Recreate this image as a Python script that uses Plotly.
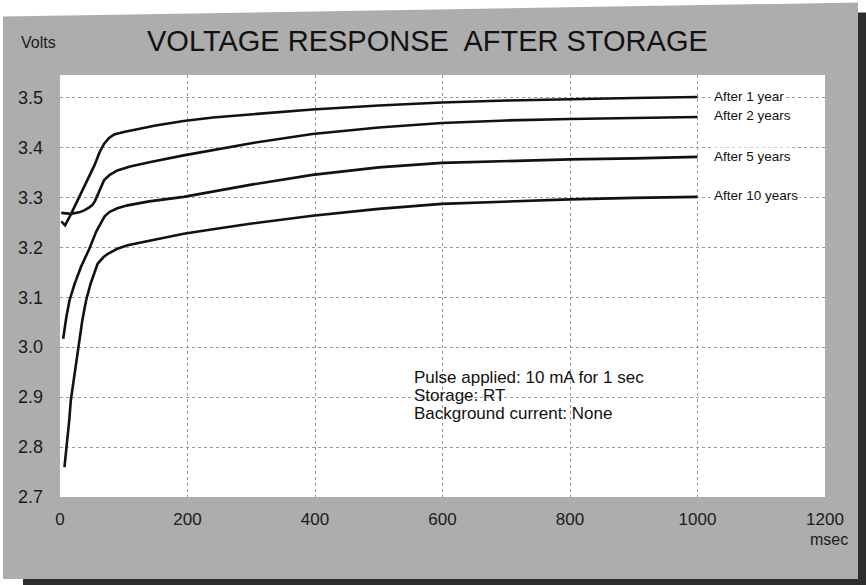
import plotly.graph_objects as go

# ---------------- data ----------------
series_names = ["After 1 year", "After 2 years", "After 5 years", "After 10 years"]

x_1yr = [2, 8, 17, 28, 38, 46, 54, 62, 69, 77, 85, 100, 116, 150, 194, 240, 298, 396, 500, 599, 700, 800, 900, 1000]
v_1yr = [3.252, 3.244, 3.266, 3.295, 3.321, 3.342, 3.364, 3.390, 3.407, 3.419, 3.426, 3.431, 3.435, 3.444, 3.453,
         3.460, 3.466, 3.476, 3.484, 3.490, 3.494, 3.497, 3.499, 3.501]

x_2yr = [2, 17, 30, 38, 46, 51, 55, 59, 64, 69, 78, 90, 110, 142, 194, 240, 298, 396, 500, 599, 700, 800, 900, 1000]
v_2yr = [3.269, 3.267, 3.270, 3.274, 3.280, 3.285, 3.293, 3.304, 3.320, 3.334, 3.345, 3.354, 3.362, 3.371, 3.384,
         3.395, 3.408, 3.427, 3.440, 3.449, 3.454, 3.457, 3.459, 3.461]

x_5yr = [5, 10, 15, 23, 33, 46, 57, 63, 70, 78, 90, 106, 140, 194, 240, 298, 396, 500, 599, 700, 800, 900, 1000]
v_5yr = [3.017, 3.061, 3.094, 3.127, 3.161, 3.197, 3.232, 3.247, 3.262, 3.271, 3.278, 3.284, 3.292, 3.301, 3.312,
         3.325, 3.345, 3.360, 3.369, 3.373, 3.376, 3.378, 3.381]

x_10yr = [7, 9.5, 12, 14.5, 17, 22, 28, 35, 41, 48, 59, 68, 75, 90, 106, 142, 194, 240, 298, 396, 500, 599, 700,
          800, 900, 1000]
v_10yr = [2.760, 2.790, 2.814, 2.854, 2.894, 2.941, 2.987, 3.054, 3.094, 3.127, 3.167, 3.180, 3.187, 3.197, 3.204,
          3.214, 3.227, 3.236, 3.247, 3.263, 3.277, 3.287, 3.292, 3.296, 3.299, 3.301]

label_y = [3.502, 3.464, 3.382, 3.304]   # vertical position of each series label

x_ticks = [0, 200, 400, 600, 800, 1000, 1200]
y_ticks = [2.7, 2.8, 2.9, 3.0, 3.1, 3.2, 3.3, 3.4, 3.5]

title_text = "VOLTAGE RESPONSE  AFTER STORAGE"
note_lines = ["Pulse applied: 10 mA for 1 sec", "Storage: RT", "Background current: None"]

# ---------------- layout geometry ----------------
W, H = 866, 585
PL, PR, PT, PB = 60, 825, 74.5, 497   # plot area in pixels
FONT = "Liberation Sans, Arial, sans-serif"


def fx(px):
    return (px - PL) / (PR - PL)


def fy(py):
    return (PB - py) / (PB - PT)


def poly(points):
    return "M " + " L ".join(f"{fx(a):.5f},{fy(b):.5f}" for a, b in points) + " Z"


fig = go.Figure()
for xs, vs in [(x_1yr, v_1yr), (x_2yr, v_2yr), (x_5yr, v_5yr), (x_10yr, v_10yr)]:
    fig.add_trace(go.Scatter(x=xs, y=vs, mode="lines",
                             line=dict(color="#111111", width=2.6),
                             showlegend=False, hoverinfo="x+y"))

annotations = []
for name, ly in zip(series_names, label_y):
    annotations.append(dict(x=1022, y=ly, xref="x", yref="y", text=name, showarrow=False,
                            xanchor="left", yanchor="middle", bgcolor="white", borderpad=1,
                            font=dict(family=FONT, size=13.5, color="#111111")))

for i, line in enumerate(note_lines):
    annotations.append(dict(x=fx(412), y=fy(377 + 18 * i), xref="paper", yref="paper", text=line,
                            showarrow=False, xanchor="left", yanchor="middle",
                            font=dict(family=FONT, size=17, color="#111111")))

annotations.append(dict(x=fx(427), y=fy(40), xref="paper", yref="paper", text=title_text,
                        showarrow=False, xanchor="center", yanchor="middle",
                        font=dict(family=FONT, size=29, color="#111111")))
annotations.append(dict(x=fx(38), y=fy(42), xref="paper", yref="paper", text="Volts",
                        showarrow=False, xanchor="center", yanchor="middle",
                        font=dict(family=FONT, size=16, color="#1a1a1a")))
annotations.append(dict(x=fx(829), y=fy(540), xref="paper", yref="paper", text="msec",
                        showarrow=False, xanchor="center", yanchor="middle",
                        font=dict(family=FONT, size=16, color="#1a1a1a")))

shapes = [
    # dark shadow (right and bottom)
    dict(type="path", xref="paper", yref="paper", layer="below", line=dict(width=0),
         fillcolor="#2e2e2e", path=poly([(856, 12), (866, 12), (866, 585), (856, 585)])),
    dict(type="path", xref="paper", yref="paper", layer="below", line=dict(width=0),
         fillcolor="#2e2e2e", path=poly([(23, 578), (866, 578), (866, 585), (23, 585)])),
    # gray panel
    dict(type="path", xref="paper", yref="paper", layer="below", line=dict(width=0),
         fillcolor="#adadad", path=poly([(3, 16), (858, 2), (858, 579), (3, 579)])),
    # white plotting area
    dict(type="rect", xref="paper", yref="paper", layer="below", line=dict(width=0),
         fillcolor="white", x0=0, x1=1, y0=0, y1=1),
]

fig.update_layout(
    width=W, height=H,
    margin=dict(l=PL, r=W - PR, t=PT, b=H - PB, pad=0),
    paper_bgcolor="white",
    plot_bgcolor="white",
    showlegend=False,
    annotations=annotations,
    shapes=shapes,
    font=dict(family=FONT, color="#1a1a1a"),
)

fig.update_xaxes(range=[0, 1200], tickvals=x_ticks, ticktext=[str(t) for t in x_ticks],
                 showgrid=True, gridcolor="#999999", griddash="dot", gridwidth=1,
                 zeroline=False, showline=False, ticks="", ticklabelstandoff=10,
                 tickfont=dict(family=FONT, size=17, color="#1a1a1a"), fixedrange=True)
fig.update_yaxes(range=[2.7, 3.545], tickvals=y_ticks, ticktext=[f"{t:.1f}" for t in y_ticks],
                 showgrid=True, gridcolor="#999999", griddash="dot", gridwidth=1,
                 zeroline=False, showline=False, ticks="", ticklabelstandoff=16,
                 tickfont=dict(family=FONT, size=18, color="#1a1a1a"), fixedrange=True)

fig.write_html("out.html", config={"displayModeBar": False, "staticPlot": True},
               post_script="document.body.style.margin='0';document.body.style.overflow='hidden';")
